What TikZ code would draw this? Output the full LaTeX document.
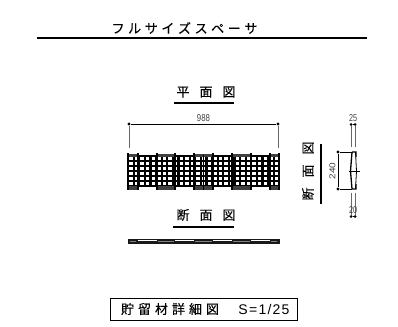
\documentclass[tikz,border=0pt]{standalone}
\usepackage{fontspec}
\newfontfamily\jpfont[FakeBold=0.2]{Noto Sans CJK JP}
\newfontfamily\scalefont[LetterSpace=9]{Liberation Sans}
\setsansfont{Liberation Sans}
\tikzset{
  title/.style={font=\jpfont\fontsize{13}{13}\selectfont, inner sep=0pt},
  dimtext/.style={font=\sffamily\fontsize{10}{10}\selectfont, inner sep=0pt, text=black!75},
  rule/.style={line width=1.4pt},
  dimline/.style={line width=0.7pt},
  extline/.style={line width=0.9pt, black!60},
  dot/.style={circle, fill=black, inner sep=0pt, minimum size=3.4pt}
}
\begin{document}
\begin{tikzpicture}[x=1pt, y=-1pt]
\useasboundingbox (0,0) rectangle (398,326);
\node[title] (head) at (184.5,28) {フ\hspace{3.6pt}ル\hspace{3.6pt}サ\hspace{3.6pt}イ\hspace{3.6pt}ズ\hspace{3.6pt}ス\hspace{3.6pt}ペ\hspace{3.6pt}ー\hspace{3.6pt}サ};
\coordinate (headL) at (37,38);
\coordinate (headR) at (367,38);
\draw[rule] (headL) -- (headR);
% plan
\node[title] (plan) at (206,92) {平\hspace{10pt}面\hspace{10pt}図};
\coordinate (planL) at (174,103);
\coordinate (planR) at (234,103);
\draw[rule] (planL) -- (planR);
\node[dot] (dimA) at (129,124) {};
\node[dot] (dimB) at (278,124) {};
\coordinate (extA) at (129,148);
\coordinate (extB) at (278,148);
\draw[dimline] (dimA) -- (dimB);
\draw[extline] (dimA) -- (extA);
\draw[extline] (dimB) -- (extB);
\node[dimtext, xscale=0.78] (len) at (203.5,118) {988};
\foreach \i in {0,...,27}
  \draw[line width=2.2pt] ({128+\i*5.6},155) -- ({128+\i*5.6},187);
\foreach \i in {0,...,6}
  \draw[line width=2.2pt] (128,{156+\i*5}) -- (279,{156+\i*5});
\foreach \a/\b in {128/138,157/175,194/213,232/251,270/279} {
  \fill[black!75] (\a,153.5) rectangle (\b,156.5);
  \fill[black!75] (\a,186) rectangle (\b,190);
  \draw[line width=1.2pt] (\a,153) -- (\a,190);
  \draw[line width=1.2pt] (\b,153) -- (\b,190);
}
\draw[line width=1.4pt] (203.5,155) -- (203.5,190);
% section below
\node[title] (front) at (206,215) {断\hspace{10pt}面\hspace{10pt}図};
\coordinate (frontL) at (173,227);
\coordinate (frontR) at (234,227);
\draw[rule] (frontL) -- (frontR);
\fill[black!90] (128,239) rectangle (280,243.5);
\draw[white, line width=0.9pt] (138,240.6) -- (157,240.6) (175,240.6) -- (194,240.6) (213,240.6) -- (232,240.6) (251,240.6) -- (270,240.6);
\draw[black!50, line width=1pt] (130,241) -- (136,241) (158,241) -- (174,241) (195,241) -- (212,241) (233,241) -- (250,241) (271,241) -- (277,241);
% section at the side
\node[title, rotate=90] (side) at (308,171) {断\hspace{10pt}面\hspace{10pt}図};
\coordinate (sideT) at (321,144);
\coordinate (sideB) at (321,204);
\draw[rule] (sideT) -- (sideB);
\node[dot] (dimC) at (338,152) {};
\node[dot] (dimD) at (338,189) {};
\coordinate (extC) at (352,152);
\coordinate (extD) at (352,189);
\draw[dimline] (dimC) -- (dimD);
\draw[dimline] (dimC) -- (extC);
\draw[dimline] (dimD) -- (extD);
\node[dimtext, xscale=0.85, rotate=90] (hgt) at (332.5,171) {240};
\draw[line width=1.3pt] (352,152) -- (356,152) -- (356,157) (352,152) -- (350.5,171) -- (352,189) -- (356,189) -- (356,184);
\draw[line width=0.8pt] (355.5,152) -- (356.5,171) -- (355.5,189);
\coordinate (tickL) at (349,171);
\coordinate (tickR) at (360,171);
\draw[dimline] (tickL) -- (tickR);
\node[dot, minimum size=3pt] (topA) at (351,124.5) {};
\node[dot, minimum size=3pt] (topB) at (355,124.5) {};
\node[dot, minimum size=3pt] (botA) at (351,216.5) {};
\node[dot, minimum size=3pt] (botB) at (355,216.5) {};
\coordinate (topAe) at (351,147);
\coordinate (topBe) at (355,147);
\coordinate (botAe) at (351,193);
\coordinate (botBe) at (355,193);
\draw[extline] (topA) -- (topAe);
\draw[extline] (topB) -- (topBe);
\draw[extline] (botA) -- (botAe);
\draw[extline] (botB) -- (botBe);
\draw[dimline] (topA) -- (topB);
\draw[dimline] (botA) -- (botB);
\node[dimtext, xscale=0.72] (gapT) at (353,118) {25};
\node[dimtext, xscale=0.72] (gapB) at (353,210) {20};
% title box
\node[draw, line width=1pt, minimum width=187pt, minimum height=22pt, inner sep=0pt] (box) at (203.5,309) {};
\node[title] (boxA) at (170,309) {貯\hspace{4pt}留\hspace{4pt}材\hspace{4pt}詳\hspace{4pt}細\hspace{4pt}図};
\node[title, font=\scalefont\fontsize{14}{14}\selectfont] (boxB) at (264,309) {S=1/25};
\end{tikzpicture}
\end{document}
